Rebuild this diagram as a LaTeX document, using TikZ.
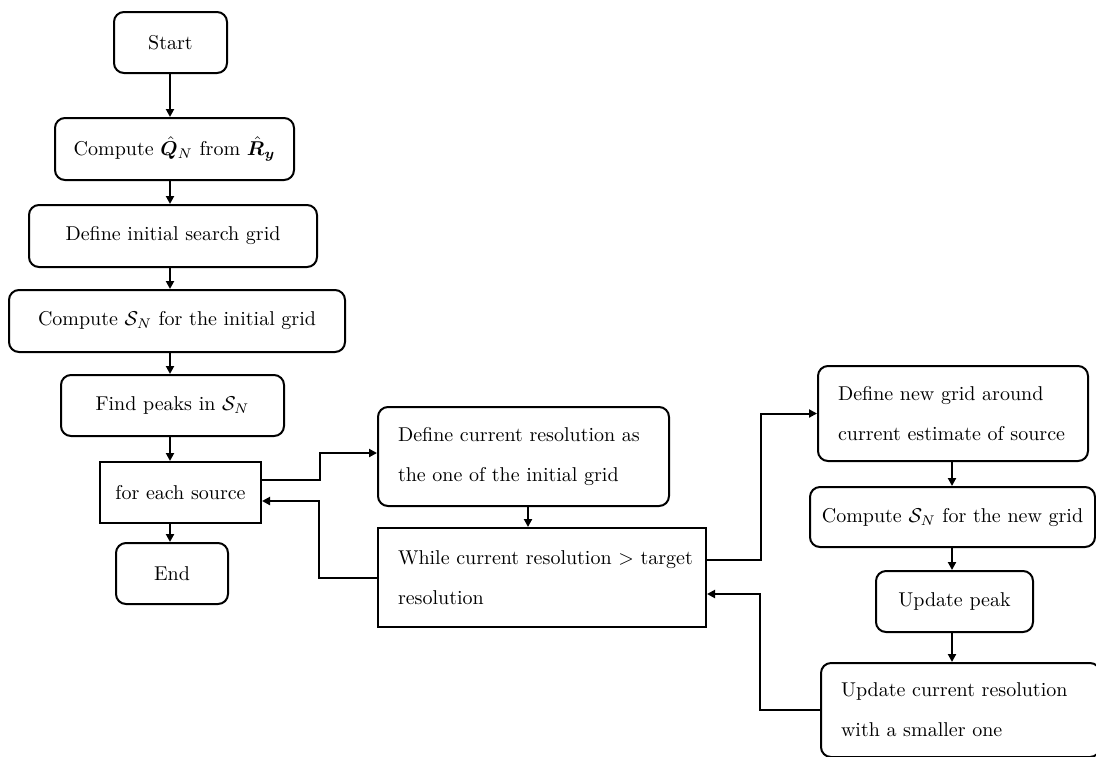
\documentclass[tikz,border=0pt]{standalone}
\usepackage{amsmath,bm}
\usetikzlibrary{arrows.meta,calc}
\begin{document}
\begin{tikzpicture}[x=0.5pt,y=-0.5pt,
  base/.style={draw, line width=1pt, inner sep=0pt, font=\fontsize{10}{20}\selectfont},
  rbox/.style={base, rounded corners=5pt, align=center},
  sbox/.style={base, align=center},
  lbox/.style={base, align=left, inner xsep=10pt},
  arr/.style={-{Triangle[length=4pt,width=4pt]}, line width=1pt}
]
\clip (0,0) rectangle (1096,756);
\fill[white] (0,0) rectangle (1096,756);

% left column
\node[rbox, minimum width=56.5pt, minimum height=30.5pt] (start) at (170.5,42.5) {Start};
\node[rbox, minimum width=119.5pt, minimum height=31pt] (compq) at (174.5,149) {Compute $\hat{\bm Q}_N$ from $\hat{\bm R}_{\bm y}$};
\node[rbox, minimum width=144pt, minimum height=31pt] (definit) at (173,236) {Define initial search grid};
\node[rbox, minimum width=168pt, minimum height=31pt] (compsn) at (177,321) {Compute $\mathcal{S}_N$ for the initial grid};
\node[rbox, minimum width=111.5pt, minimum height=30.5pt] (findpk) at (172.5,405.5) {Find peaks in $\mathcal{S}_N$};
\node[sbox, minimum width=80.5pt, minimum height=30.5pt] (foreach) at (180.5,492.5) {for each source};
\node[rbox, minimum width=56pt, minimum height=30.5pt] (end) at (172,573.5) {End};

% middle column
\node[lbox, rounded corners=5pt, text width=125.5pt, minimum height=49.5pt] (defcur) at (523.5,456.5)
  {\mbox{Define current resolution as}\\\mbox{the one of the initial grid}};
\node[lbox, text width=144pt, minimum height=49.5pt] (while) at (542,577.5)
  {\mbox{While current resolution $>$ target}\\\mbox{resolution}};

% right column
\node[lbox, rounded corners=5pt, text width=115pt, minimum height=47.5pt] (defnew) at (953,413.5)
  {\mbox{Define new grid around}\\\mbox{current estimate of source}};
\node[rbox, minimum width=142.5pt, minimum height=30pt] (compnew) at (952.5,517) {Compute $\mathcal{S}_N$ for the new grid};
\node[rbox, minimum width=78.5pt, minimum height=30.5pt] (updpk) at (954.5,601.5) {Update peak};
\node[lbox, rounded corners=5pt, text width=119.5pt, minimum height=47pt] (updcur) at (960.5,710)
  {\mbox{Update current resolution}\\\mbox{with a smaller one}};

% helper columns
\coordinate (colL) at (170,0);
\coordinate (colM) at (528,0);
\coordinate (colR) at (952,0);
\coordinate (bendL) at (319,0);
\coordinate (bendR) at (760,0);

% left column arrows
\draw[arr] (start.south -| colL) -- (compq.north -| colL);
\draw[arr] (compq.south -| colL) -- (definit.north -| colL);
\draw[arr] (definit.south -| colL) -- (compsn.north -| colL);
\draw[arr] (compsn.south -| colL) -- (findpk.north -| colL);
\draw[arr] (findpk.south -| colL) -- (foreach.north -| colL);
\draw[arr] (foreach.south -| colL) -- (end.north -| colL);

% loop over sources
\draw[arr] ([yshift=6.25pt]foreach.east) -- ++(58,0) |- ([yshift=1.75pt]defcur.west);
\draw[arr] (defcur.south -| colM) -- (while.north -| colM);
\draw[arr] (while.west) -- (while.west -| bendL) |- ([yshift=-4.25pt]foreach.east);

% inner while loop
\draw[arr] ([yshift=8.75pt]while.east) -- ++(54,0) |- (defnew.west);
\draw[arr] (defnew.south -| colR) -- (compnew.north -| colR);
\draw[arr] (compnew.south -| colR) -- (updpk.north -| colR);
\draw[arr] (updpk.south -| colR) -- (updcur.north -| colR);
\draw[arr] (updcur.west) -- (updcur.west -| bendR) |- ([yshift=-8.25pt]while.east);
\end{tikzpicture}
\end{document}
